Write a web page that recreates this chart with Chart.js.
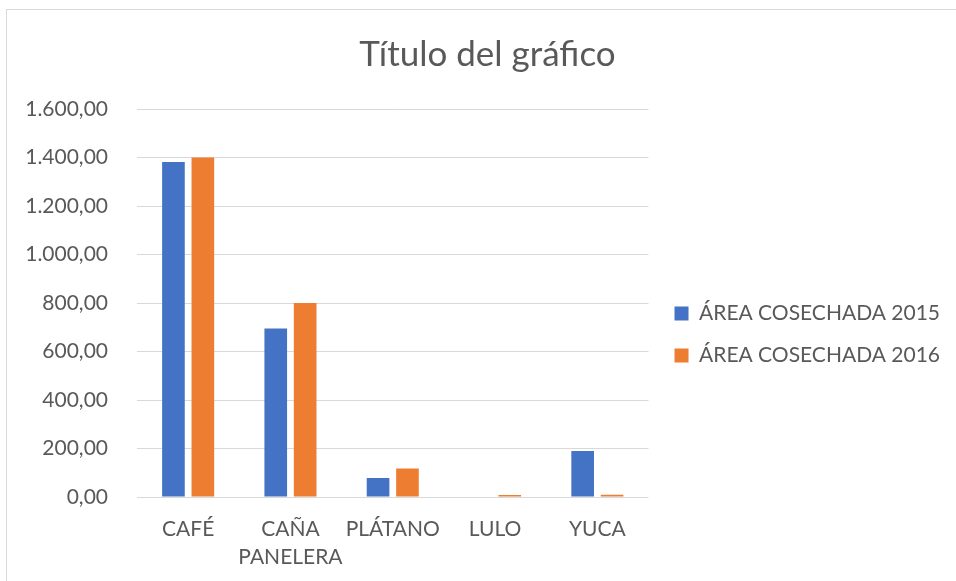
<!DOCTYPE html>
<html lang="es">
<head>
    <meta charset="UTF-8">
    <title>Título del gráfico</title>
    <script src="https://cdn.jsdelivr.net/npm/chart.js"></script>
    <style>
        html, body {
            margin: 0;
            padding: 0;
            background: #ffffff;
            overflow: hidden;
        }
        .frame {
            position: absolute;
            left: 6px;
            top: 9px;
            width: 1000px;
            height: 620px;
            border: 1px solid #d9d9d9;
        }
        .chart-box {
            position: absolute;
            left: 0;
            top: 0;
            width: 956px;
            height: 581px;
        }
    </style>
</head>
<body>
    <div class="frame"></div>
    <div class="chart-box">
        <canvas id="cultivosChart" width="956" height="581"></canvas>
    </div>

    <script>
        const categorias = [['CAFÉ'], ['CAÑA', 'PANELERA'], ['PLÁTANO'], ['LULO'], ['YUCA']];
        const area2015 = [1381, 695, 78, 0, 190];
        const area2016 = [1400, 800, 118, 8, 9];
        const serieNombres = ['ÁREA COSECHADA 2015', 'ÁREA COSECHADA 2016'];
        const serieColores = ['#4472C4', '#ED7D31'];

        const fmt = new Intl.NumberFormat('de-DE', { minimumFractionDigits: 2, maximumFractionDigits: 2 });
        const gris = '#595959';
        const fuente = 'Lato, "Open Sans", sans-serif';

        // hueco entre el area del grafico y la leyenda
        const separador = {
            id: 'separador',
            beforeInit(chart) {
                Chart.layouts.addBox(chart, {
                    position: 'right',
                    weight: 500,
                    fullSize: false,
                    options: {},
                    top: 0, left: 0, right: 0, bottom: 0, width: 0, height: 0,
                    isHorizontal() { return false; },
                    update(maxWidth, maxHeight) { this.width = 5; this.height = maxHeight; },
                    draw() {}
                });
            }
        };

        function dibujar() {
            const ctx = document.getElementById('cultivosChart').getContext('2d');
            new Chart(ctx, {
                type: 'bar',
                data: {
                    labels: categorias,
                    datasets: [
                        { label: serieNombres[0], data: area2015, backgroundColor: serieColores[0] },
                        { label: serieNombres[1], data: area2016, backgroundColor: serieColores[1] }
                    ]
                },
                plugins: [separador],
                options: {
                    responsive: false,
                    animation: false,
                    devicePixelRatio: 1,
                    datasets: {
                        bar: { categoryPercentage: 0.575, barPercentage: 0.77 }
                    },
                    layout: {
                        padding: { left: 25, right: 6, top: 10, bottom: 10 }
                    },
                    plugins: {
                        title: {
                            display: true,
                            text: 'Título del gráfico',
                            color: gris,
                            font: { family: fuente, size: 35, weight: 'normal', lineHeight: 1.2 },
                            padding: { top: 24, bottom: 33 }
                        },
                        legend: {
                            position: 'right',
                            maxWidth: 400,
                            title: {
                                display: true,
                                text: ' ',
                                font: { size: 12, lineHeight: 1 },
                                padding: { top: 38, bottom: 38 }
                            },
                            labels: {
                                color: gris,
                                font: { family: fuente, size: 21 },
                                boxWidth: 14,
                                boxHeight: 14,
                                padding: 21
                            }
                        },
                        tooltip: { enabled: false }
                    },
                    scales: {
                        x: {
                            grid: { display: false, drawTicks: false },
                            border: { display: false },
                            afterFit(scale) { scale.height = 74; },
                            ticks: {
                                color: gris,
                                font: { family: fuente, size: 21, lineHeight: 1.3 },
                                padding: 19,
                                maxRotation: 0,
                                autoSkip: false
                            }
                        },
                        y: {
                            min: 0,
                            max: 1600,
                            border: { display: false },
                            grid: { color: '#d9d9d9', lineWidth: 1, drawTicks: false },
                            afterFit(scale) { scale.width = 112; },
                            ticks: {
                                stepSize: 200,
                                color: gris,
                                font: { family: fuente, size: 21 },
                                padding: 29,
                                callback: v => fmt.format(v)
                            }
                        }
                    }
                }
            });
        }

        Promise.all([
            document.fonts.load('21px Lato'),
            document.fonts.load('35px Lato')
        ]).then(dibujar, dibujar);
    </script>
</body>
</html>
